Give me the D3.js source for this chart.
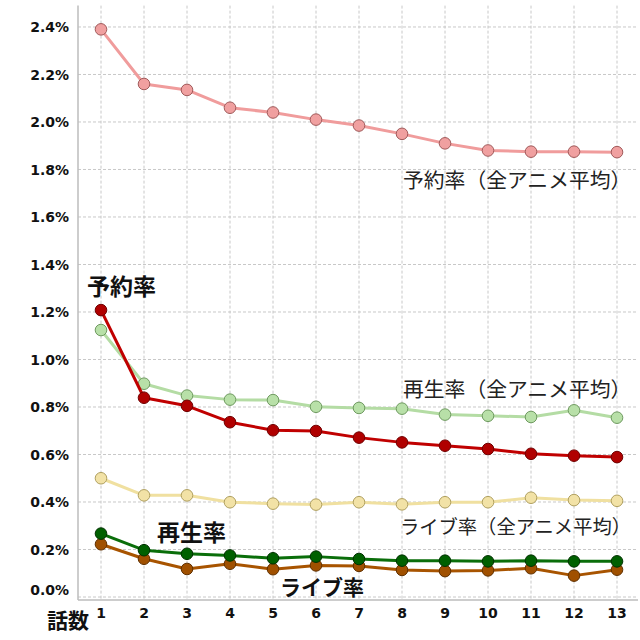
<!DOCTYPE html>
<html><head><meta charset="utf-8">
<script src="https://cdn.jsdelivr.net/npm/d3@7"></script>
<style>body{margin:0;background:#fff}svg{display:block}</style>
</head><body>
<svg id="c" width="640" height="640"></svg>
<script>
const episodes = [1,2,3,4,5,6,7,8,9,10,11,12,13];
const yTicks = [0,0.2,0.4,0.6,0.8,1.0,1.2,1.4,1.6,1.8,2.0,2.2,2.4];
const reserveAvg = [2.39,2.16,2.135,2.06,2.04,2.01,1.985,1.95,1.91,1.88,1.875,1.875,1.873];
const reserve    = [1.208,0.839,0.805,0.736,0.702,0.699,0.671,0.651,0.637,0.623,0.603,0.595,0.589];
const playAvg    = [1.124,0.898,0.848,0.831,0.829,0.801,0.796,0.793,0.768,0.763,0.758,0.786,0.755];
const liveAvg    = [0.50,0.428,0.428,0.399,0.393,0.389,0.399,0.390,0.399,0.399,0.418,0.408,0.405];
const play       = [0.267,0.197,0.182,0.175,0.163,0.170,0.160,0.153,0.153,0.150,0.153,0.150,0.150];
const live       = [0.222,0.161,0.118,0.140,0.117,0.133,0.131,0.114,0.109,0.112,0.121,0.090,0.115];

const series = [
  {name:"予約率（全アニメ平均）", values:reserveAvg, line:"#f09c9c", fill:"#f0a0a0", stroke:"#a05a5a"},
  {name:"再生率（全アニメ平均）", values:playAvg, line:"#b4dca4", fill:"#b8e0a8", stroke:"#6f9a60"},
  {name:"ライブ率（全アニメ平均）", values:liveAvg, line:"#f0e0a0", fill:"#f2e2a6", stroke:"#b0a060"},
  {name:"予約率", values:reserve, line:"#c00000", fill:"#b00000", stroke:"#700000"},
  {name:"ライブ率", values:live, line:"#a85400", fill:"#a05000", stroke:"#603000"},
  {name:"再生率", values:play, line:"#0a6e0a", fill:"#006000", stroke:"#003000"}
];

const svg = d3.select("#c");
const left = 78, right = 638, bottom = 600;
const x = d3.scalePoint().domain(episodes).range([101, 617]);
const y = d3.scaleLinear().domain([0, 2.49]).range([597, 5.6]);

// grid
const g = svg.append("g");
g.selectAll(".hg").data(yTicks).join("line")
  .attr("x1", left).attr("x2", right)
  .attr("y1", d => y(d)).attr("y2", d => y(d))
  .attr("stroke", "#c8c8c8").attr("stroke-width", 1).attr("stroke-dasharray", "3,2");
g.selectAll(".vg").data(episodes).join("line")
  .attr("x1", d => x(d)).attr("x2", d => x(d))
  .attr("y1", y(2.49)).attr("y2", bottom)
  .attr("stroke", "#c8c8c8").attr("stroke-width", 1).attr("stroke-dasharray", "3,2");

// axes lines
svg.append("line").attr("x1", left).attr("x2", left).attr("y1", y(2.49)).attr("y2", bottom)
  .attr("stroke", "#bdbdbd").attr("stroke-width", 1.5);
svg.append("line").attr("x1", left).attr("x2", right).attr("y1", bottom).attr("y2", bottom)
  .attr("stroke", "#bdbdbd").attr("stroke-width", 1.5);

// y tick labels
svg.selectAll(".yl").data(yTicks).join("text")
  .attr("x", 69).attr("y", d => y(d) - (d === 0 ? 7 : 0))
  .attr("dy", "0.36em").attr("text-anchor", "end")
  .attr("font-family", "DejaVu Sans, Verdana, sans-serif").attr("font-weight", "bold")
  .attr("font-size", 14).attr("fill", "#111")
  .text(d => d.toFixed(1) + "%");

// x tick labels
svg.selectAll(".xl").data(episodes).join("text")
  .attr("x", d => x(d)).attr("y", 613).attr("dy", "0.36em").attr("text-anchor", "middle")
  .attr("font-family", "DejaVu Sans, Verdana, sans-serif").attr("font-weight", "bold")
  .attr("font-size", 14).attr("fill", "#111")
  .text(d => d);

svg.append("text").attr("x", 47).attr("y", 620).attr("dy", "0.36em")
  .attr("font-family", "Noto Sans CJK JP").attr("font-weight", "bold").attr("font-size", 21)
  .attr("fill", "#111").text("話数");

// lines
const line = d3.line().x((d, i) => x(episodes[i])).y(d => y(d));
series.forEach(s => {
  const sg = svg.append("g");
  sg.append("path").datum(s.values).attr("d", line).attr("fill", "none")
    .attr("stroke", s.line).attr("stroke-width", 3).attr("stroke-linejoin", "round");
  sg.selectAll("circle").data(s.values).join("circle")
    .attr("cx", (d, i) => x(episodes[i])).attr("cy", d => y(d)).attr("r", 5.8)
    .attr("fill", s.fill).attr("stroke", s.stroke).attr("stroke-width", 1);
});

// labels
const normalLabels = [
  {text:"予約率（全アニメ平均）", x:403, y:181, size:20.8},
  {text:"再生率（全アニメ平均）", x:403, y:390, size:20.8},
  {text:"ライブ率（全アニメ平均）", x:400, y:527, size:19.3}
];
svg.selectAll(".nl").data(normalLabels).join("text")
  .attr("x", d => d.x).attr("y", d => d.y).attr("dy", "0.36em").attr("text-anchor", "start")
  .attr("font-family", "Noto Sans CJK JP").attr("font-size", d => d.size).attr("fill", "#222")
  .text(d => d.text);

const boldLabels = [
  {text:"予約率", x:87, y:287, size:23},
  {text:"再生率", x:157, y:533, size:23},
  {text:"ライブ率", x:280, y:587, size:21}
];
svg.selectAll(".bl").data(boldLabels).join("text")
  .attr("x", d => d.x).attr("y", d => d.y).attr("dy", "0.36em").attr("text-anchor", "start")
  .attr("font-family", "Noto Sans CJK JP").attr("font-weight", "bold").attr("font-size", d => d.size).attr("fill", "#111")
  .text(d => d.text);
</script>
</body></html>
